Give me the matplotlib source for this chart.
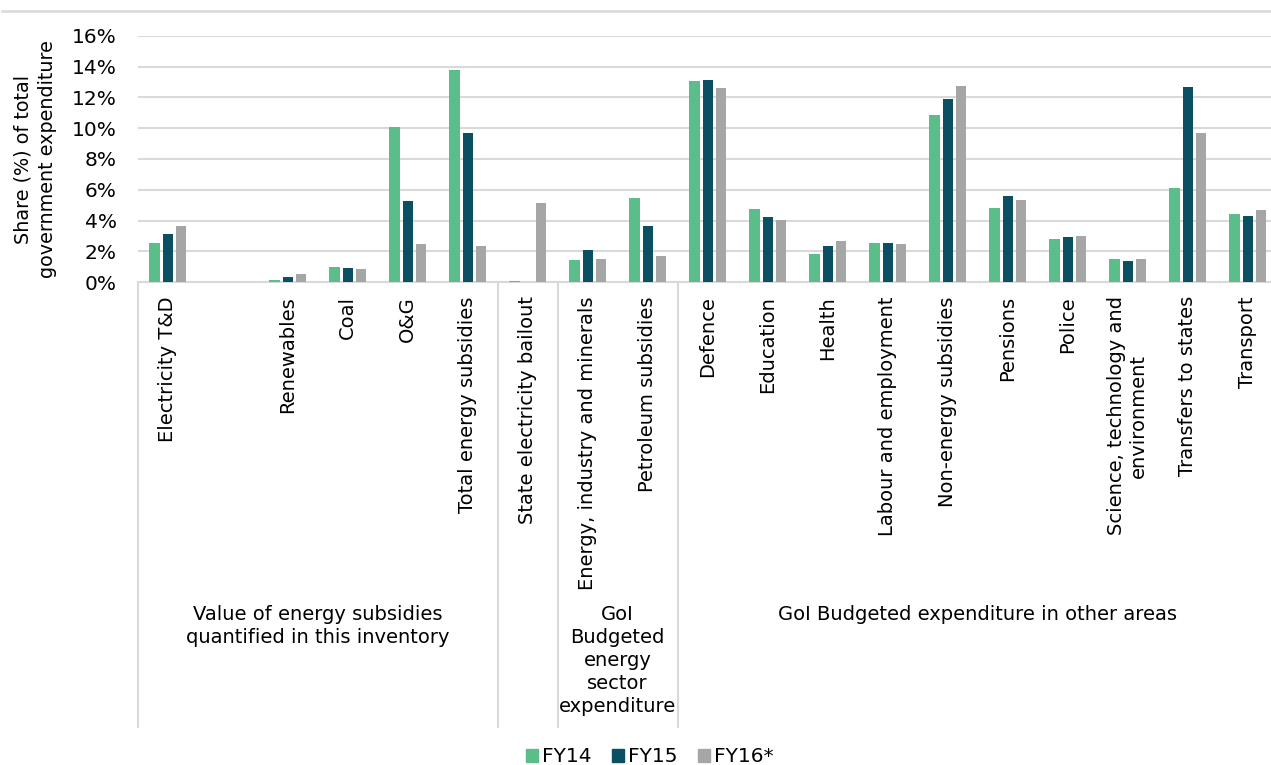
import numpy as np
import matplotlib
matplotlib.use("Agg")
import matplotlib.pyplot as plt
from matplotlib.lines import Line2D
from matplotlib.patches import Patch

plt.rcParams["font.family"] = ["DejaVu Sans"]

categories = [
    "Electricity T&D", "", "Renewables", "Coal", "O&G", "Total energy subsidies",
    "State electricity bailout", "Energy, industry and minerals", "Petroleum subsidies",
    "Defence", "Education", "Health", "Labour and employment", "Non-energy subsidies",
    "Pensions", "Police", "Science, technology and\nenvironment", "Transfers to states",
    "Transport",
]
fy14 = [2.57, 0, 0.15, 0.99, 10.09, 13.75, 0.06, 1.47, 5.47, 13.05, 4.75, 1.85,
        2.55, 10.85, 4.80, 2.79, 1.51, 6.13, 4.41]
fy15 = [3.11, 0, 0.34, 0.95, 5.25, 9.68, 0, 2.11, 3.63, 13.12, 4.23, 2.35,
        2.55, 11.89, 5.62, 2.92, 1.38, 12.68, 4.30]
fy16 = [3.63, 0, 0.52, 0.84, 2.50, 2.33, 5.16, 1.53, 1.69, 12.58, 4.04, 2.68,
        2.48, 12.75, 5.36, 3.00, 1.53, 9.70, 4.69]
series_names = ["FY14", "FY15", "FY16*"]

# groups: (label, first index, last index)
groups = [
    ("Value of energy subsidies\nquantified in this inventory", 0, 5),
    ("", 6, 6),
    ("GoI\nBudgeted\nenergy\nsector\nexpenditure", 7, 8),
    ("GoI Budgeted expenditure in other areas", 9, 18),
]

colors = ["#5BBD8A", "#0B4F63", "#A6A6A6"]
grid_c = "#D9D9D9"

W, H = 1271, 765
fig = plt.figure(figsize=(W / 100, H / 100), dpi=100)
left, right = 137.7, 137.7 + 60 * 19
top, bottom = 35.7, 282.3
ax = fig.add_axes([left / W, 1 - bottom / H, (right - left) / W, (bottom - top) / H])

x = np.arange(len(categories))
for i, (vals, name) in enumerate(zip([fy14, fy15, fy16], series_names)):
    ax.bar(x + (i - 1) * 0.222, vals, width=0.172, color=colors[i], label=name, zorder=3)

ax.set_xlim(-0.5, len(categories) - 0.5)
ax.set_ylim(0, 16)
ax.set_yticks(range(0, 17, 2))
ax.set_yticklabels([f"{v}%" for v in range(0, 17, 2)], fontsize=14.5)
ax.yaxis.grid(True, color=grid_c, linewidth=1.5, zorder=0)
ax.tick_params(axis="y", length=0, pad=15)
ax.set_ylabel("Share (%) of total\ngovernment expenditure", fontsize=13.8, labelpad=11,
              linespacing=1.35)

ax.set_xticks(x)
ax.set_xticklabels(categories, rotation=90, fontsize=14, multialignment="center",
                   linespacing=1.2)
ax.tick_params(axis="x", length=0, pad=10)

for s in ["top", "right", "left"]:
    ax.spines[s].set_visible(False)
ax.spines["bottom"].set_color(grid_c)
ax.spines["bottom"].set_linewidth(1.5)

# group separators and labels
trans = ax.get_xaxis_transform()
sep_bottom = (bottom - 727) / (bottom - top)
label_top = (bottom - 605) / (bottom - top)
for label, a, b in groups:
    ax.plot([a - 0.5, a - 0.5], [0, sep_bottom], transform=trans, color=grid_c,
            linewidth=1.5, clip_on=False)
    ax.text((a + b) / 2, label_top, label, transform=trans, ha="center", va="top",
            fontsize=14, linespacing=1.27, multialignment="center")

# top rule of the figure
fig.add_artist(Line2D([2 / W, 1], [1 - 11 / H, 1 - 11 / H], color=grid_c, linewidth=1.8))

handles = [Patch(color=c) for c in colors]
fig.legend(handles, series_names, loc="center", bbox_to_anchor=(650 / W, 1 - 757 / H),
           ncol=3, frameon=False, fontsize=14.5, handlelength=0.6, handleheight=0.6,
           handletextpad=0.2, columnspacing=1.0)

fig.savefig("out.png", dpi=100)
